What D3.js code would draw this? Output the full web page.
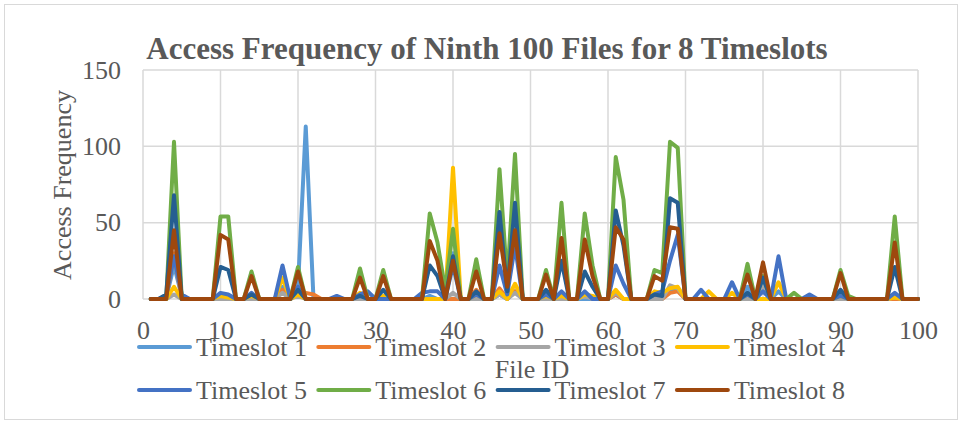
<!DOCTYPE html>
<html>
<head>
<meta charset="utf-8">
<script src="https://cdn.jsdelivr.net/npm/d3@7"></script>
<style>
  body { margin: 0; background: #fff; }
  svg text { font-family: "Liberation Serif", "Times New Roman", serif; fill: #595959; }
</style>
</head>
<body>
<svg width="963" height="425"></svg>
<script>
const seriesNames = ['Timeslot 1', 'Timeslot 2', 'Timeslot 3', 'Timeslot 4',
  'Timeslot 5', 'Timeslot 6', 'Timeslot 7', 'Timeslot 8'];
const colors = ['#5B9BD5', '#ED7D31', '#A5A5A5', '#FFC000',
  '#4472C4', '#70AD47', '#255E91', '#9E480E'];
const xTicks = [0, 10, 20, 30, 40, 50, 60, 70, 80, 90, 100];
const yTicks = [0, 50, 100, 150];

// file ids 1..100
const t1 = [0,0,1,22,2,0,0,0,0,0, 0,0,0,0,0,0,0,8,0,8, 113,0,0,0,0,0,0,0,0,0, 0,0,0,0,0,0,2,0,0,30,
  0,0,0,0,0,3,0,5,0,0, 0,0,0,0,0,0,0,0,0,0, 3,0,0,0,0,0,3,5,6,0, 0,0,0,0,0,0,0,8,0,10,
  0,5,0,0,0,0,0,0,0,3, 0,0,0,0,0,0,2,0,0,0];
const t2 = [0,0,0,30,0,0,0,0,0,0, 0,0,0,0,0,0,0,6,0,3, 4,3,0,0,0,0,0,0,0,0, 0,0,0,0,0,0,0,0,0,0,
  0,0,6,0,0,7,0,5,0,0, 0,2,0,0,0,0,3,0,0,0, 3,0,0,0,0,2,0,4,5,0, 0,0,0,0,0,0,0,0,0,0,
  0,0,0,0,0,0,0,0,0,0, 0,0,0,0,0,0,0,0,0,0];
const t3 = [0,0,0,3,0,0,0,0,0,0, 0,0,0,0,0,0,0,4,0,2, 0,0,0,0,0,0,0,0,0,0, 0,0,0,0,0,0,0,0,0,4,
  0,0,0,0,0,3,0,4,0,0, 0,0,0,0,0,0,2,0,0,0, 4,0,0,0,0,0,0,9,7,0, 0,0,0,0,0,0,0,0,0,8,
  0,0,0,0,0,0,0,0,0,0, 0,0,0,0,0,0,1,0,0,0];
const t4 = [0,0,0,8,0,0,0,0,0,2, 1,0,0,2,0,0,0,14,0,3, 0,0,0,0,0,0,0,4,0,0, 2,0,0,0,0,0,0,0,0,86,
  0,0,3,0,0,5,0,10,0,0, 0,2,0,2,0,0,3,2,0,0, 6,0,0,0,0,5,4,7,8,0, 0,0,5,0,0,4,0,3,0,0,
  0,11,0,0,0,0,0,0,0,2, 0,0,0,0,0,0,1,0,0,0];
const t5 = [0,0,2,28,3,0,0,0,0,4, 3,0,0,4,0,0,0,22,0,8, 0,0,0,0,2,0,0,3,5,0, 0,0,0,0,0,4,5,5,0,22,
  0,0,3,0,0,22,3,35,0,0, 0,3,0,5,0,0,5,0,0,0, 22,10,0,0,0,3,5,25,42,0, 0,6,0,0,0,11,0,3,0,5,
  0,28,0,0,0,3,0,0,0,2, 0,0,0,0,0,0,4,0,0,0];
const t6 = [0,0,0,103,0,0,0,0,0,54, 54,0,0,18,0,0,0,0,0,21, 0,0,0,0,0,0,0,20,0,0, 19,0,0,0,0,0,56,37,6,46,
  0,0,26,0,0,85,12,95,0,0, 0,19,0,63,0,0,56,22,0,0, 93,65,0,0,0,19,17,103,99,0, 0,0,0,0,0,0,0,23,0,15,
  0,0,0,4,0,0,0,0,0,19, 2,0,0,0,0,0,54,0,0,0];
const t7 = [0,0,3,68,0,0,0,0,0,21, 19,0,0,3,0,0,0,0,0,6, 0,0,0,0,0,0,0,2,0,0, 6,0,0,0,0,0,22,15,0,28,
  0,0,5,0,0,57,5,63,0,0, 0,6,0,25,0,0,18,8,0,0, 58,35,0,0,0,3,2,66,63,0, 0,0,0,0,0,0,0,4,0,14,
  0,0,0,0,0,0,0,0,0,6, 0,0,0,0,0,0,21,0,0,0];
const t8 = [0,0,0,45,0,0,0,0,0,42, 39,0,0,15,0,0,0,0,0,18, 0,0,0,0,0,0,0,14,0,0, 15,0,0,0,0,0,38,25,0,25,
  0,0,18,0,0,43,8,45,0,0, 0,16,0,40,0,0,39,15,0,0, 47,39,0,0,0,15,12,47,46,0, 0,0,0,0,0,0,0,16,0,24,
  0,0,0,0,0,0,0,0,0,17, 0,0,0,0,0,0,37,0,0,0];
const series = [t1, t2, t3, t4, t5, t6, t7, t8];

const svg = d3.select('svg');
const x = d3.scaleLinear().domain([0, 100]).range([143, 918]);
const y = d3.scaleLinear().domain([0, 150]).range([299, 70]);

// chart border
svg.append('rect')
  .attr('x', 4.5).attr('y', 4.5)
  .attr('width', 953).attr('height', 415)
  .attr('fill', 'none').attr('stroke', '#d9d9d9');

// gridlines
svg.append('g')
  .selectAll('line.h')
  .data(yTicks)
  .enter().append('line')
    .attr('x1', x(0)).attr('x2', x(100))
    .attr('y1', d => y(d)).attr('y2', d => y(d))
    .attr('stroke', '#d9d9d9').attr('stroke-width', 1.5);
svg.append('g')
  .selectAll('line.v')
  .data(xTicks)
  .enter().append('line')
    .attr('y1', y(0)).attr('y2', y(150))
    .attr('x1', d => x(d)).attr('x2', d => x(d))
    .attr('stroke', '#d9d9d9').attr('stroke-width', 1.5);

// axes labels
const axisY = d3.axisLeft(y).tickValues(yTicks).tickSize(0).tickPadding(22);
svg.append('g')
  .attr('transform', `translate(${x(0)},0)`)
  .call(axisY)
  .call(g => g.select('.domain').remove())
  .selectAll('text')
    .style('font-size', '26px')
    .style('font-family', '"Liberation Serif", serif')
    .attr('fill', '#595959');

const axisX = d3.axisBottom(x).tickValues(xTicks).tickSize(0).tickPadding(22);
svg.append('g')
  .attr('transform', `translate(0,${y(0)})`)
  .call(axisX)
  .call(g => g.select('.domain').remove())
  .selectAll('text')
    .style('font-size', '26px')
    .style('font-family', '"Liberation Serif", serif')
    .attr('fill', '#595959');

// lines
const line = d3.line()
  .x((d, i) => x(i + 1))
  .y(d => y(d));
svg.append('g')
  .selectAll('path')
  .data(series)
  .enter().append('path')
    .attr('d', line)
    .attr('fill', 'none')
    .attr('stroke', (d, i) => colors[i])
    .attr('stroke-width', 4)
    .attr('stroke-linejoin', 'round')
    .attr('stroke-linecap', 'round');

// title
svg.append('text')
  .text('Access Frequency of Ninth 100 Files for 8 Timeslots')
  .attr('x', 487).attr('y', 59)
  .attr('text-anchor', 'middle')
  .style('font-size', '31px')
  .style('font-weight', 'bold');

svg.append('text')
  .text('Access Frequency')
  .attr('transform', 'translate(71,185) rotate(-90)')
  .attr('text-anchor', 'middle')
  .style('font-size', '26px');

svg.append('text')
  .text('File ID')
  .attr('x', 532).attr('y', 378)
  .attr('text-anchor', 'middle')
  .style('font-size', '26px');

// legend
const legend = svg.append('g')
  .selectAll('g')
  .data(seriesNames)
  .enter().append('g')
    .attr('transform', (d, i) => `translate(${139 + (i % 4) * 179.3},${i < 4 ? 347 : 390})`);
legend.append('line')
  .attr('x1', 0).attr('x2', 51)
  .attr('stroke', (d, i) => colors[i])
  .attr('stroke-width', 4)
  .attr('stroke-linecap', 'round');
legend.append('text')
  .text(d => d)
  .attr('x', 57).attr('y', 9)
  .style('font-size', '26px');
</script>
</body>
</html>
